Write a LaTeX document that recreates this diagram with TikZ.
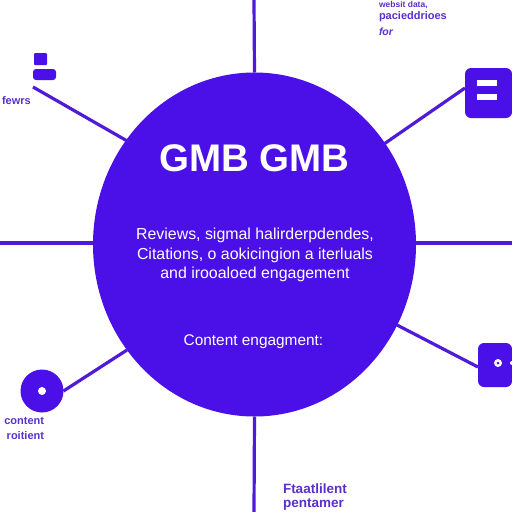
\documentclass[tikz,border=0pt]{standalone}
\usepackage{fontspec}
\setmainfont{Liberation Sans}
\usetikzlibrary{positioning,shapes.geometric,calc}
\definecolor{hubFill}{HTML}{4B0FE8}
\definecolor{spoke}{HTML}{4F1BD8}
\definecolor{labelInk}{HTML}{5A30C8}
\definecolor{paper}{HTML}{FFFFFF}
\begin{document}
\begin{tikzpicture}[
    x=1pt, y=-1pt,
    every node/.style={inner sep=0pt, outer sep=0pt},
    hub/.style={ellipse, fill=hubFill, minimum width=323pt, minimum height=344pt},
    arm/.style={line width=3.2pt, draw=spoke},
    iconbox/.style={rectangle, rounded corners=6pt, fill=hubFill, anchor=north west},
    iconbar/.style={rectangle, fill=paper},
    icondot/.style={circle, fill=paper},
    sidelabel/.style={font=\bfseries\fontsize{11}{15}\selectfont, text=labelInk, align=left},
    hubtext/.style={text=paper, align=center, font=\fontsize{15.9}{19.5}\selectfont},
]
\useasboundingbox (0,0) rectangle (512,512);

% --- Central circle ---
\node[hub] (center) at (254.5,244.5) {};
\node[text=paper, font=\bfseries\fontsize{38.5}{42}\selectfont] (title) at (254.5,158) {GMB GMB};
\node[hubtext] (body) at (255,255) {Reviews, sigmal halirderpdendes,\\Citations, o aokicingion a iterluals\\and irooaloed engagement};
\node[hubtext, font=\fontsize{15.4}{18}\selectfont] (extra) at (253.5,342) {Content engagment:};

% --- Straight arms ---
\coordinate (topEnd) at (254,0);
\coordinate (bottomEnd) at (254,512);
\coordinate (leftEnd) at (0,243);
\coordinate (rightEnd) at (512,243);
\draw[arm] (center.north) -- (topEnd);
\draw[arm] (center.south) -- (bottomEnd);
\draw[arm] (center.west |- leftEnd) -- (leftEnd);
\draw[arm] (center.east |- rightEnd) -- (rightEnd);

% --- Top left icon ---
\node[iconbox, rounded corners=1pt, minimum width=13pt, minimum height=12pt] (flagTop) at (34,53) {};
\node[iconbox, rounded corners=3pt, minimum width=23pt, minimum height=11pt] (flagBase) at (33,69) {};
\coordinate (flagEnd) at (33,87);
\coordinate (hubNW) at (129,142);
\draw[arm] (flagEnd) -- (hubNW);
\node[sidelabel, anchor=west] (fewrs) at (2,101) {fewrs};

% --- Top right icon ---
\node[iconbox, minimum width=47pt, minimum height=50pt] (menu) at (465,68) {};
\node[iconbar, minimum width=20pt, minimum height=6pt] (menuA) at (487,82.5) {};
\node[iconbar, minimum width=20pt, minimum height=6pt] (menuB) at (487,97) {};
\coordinate (hubNE) at (384,144);
\draw[arm] (hubNE) -- (menu.west |- 0,88);
\node[sidelabel, anchor=west, font=\bfseries\fontsize{8.5}{10}\selectfont] (topnoteA) at (379,5) {websit data,};
\node[sidelabel, anchor=west, font=\bfseries\fontsize{11}{14}\selectfont] (topnoteB) at (379,17) {pacieddrioes};
\node[sidelabel, anchor=west, font=\bfseries\itshape\fontsize{10.5}{14}\selectfont] (topnoteC) at (379,32) {for};

% --- Lower right icon ---
\node[iconbox, minimum width=34pt, minimum height=44pt] (panel) at (478,343) {};
\node[icondot, minimum size=8pt] (panelA) at (498,363) {};
\node[circle, fill=hubFill, minimum size=3pt] (panelAhole) at (498,363) {};
\node[icondot, minimum size=4pt] (panelB) at (512,363) {};
\coordinate (hubSE) at (397,325);
\draw[arm] (hubSE) -- (panel.west |- 0,367);

% --- Lower left icon ---
\node[circle, fill=hubFill, minimum size=43pt] (disc) at (42,391) {};
\node[icondot, minimum size=8pt] (discDot) at (42,391) {};
\coordinate (hubSW) at (127,350);
\draw[arm] (disc.east) -- (hubSW);
\node[sidelabel, anchor=north east, align=right] (contentnote) at (44,417) {content\\roitient};

% --- Bottom label ---
\node[sidelabel, anchor=north west, font=\bfseries\fontsize{13.5}{14}\selectfont] (bottomnote) at (283,484) {Ftaatlilent\\pentamer};
\end{tikzpicture}
\end{document}
